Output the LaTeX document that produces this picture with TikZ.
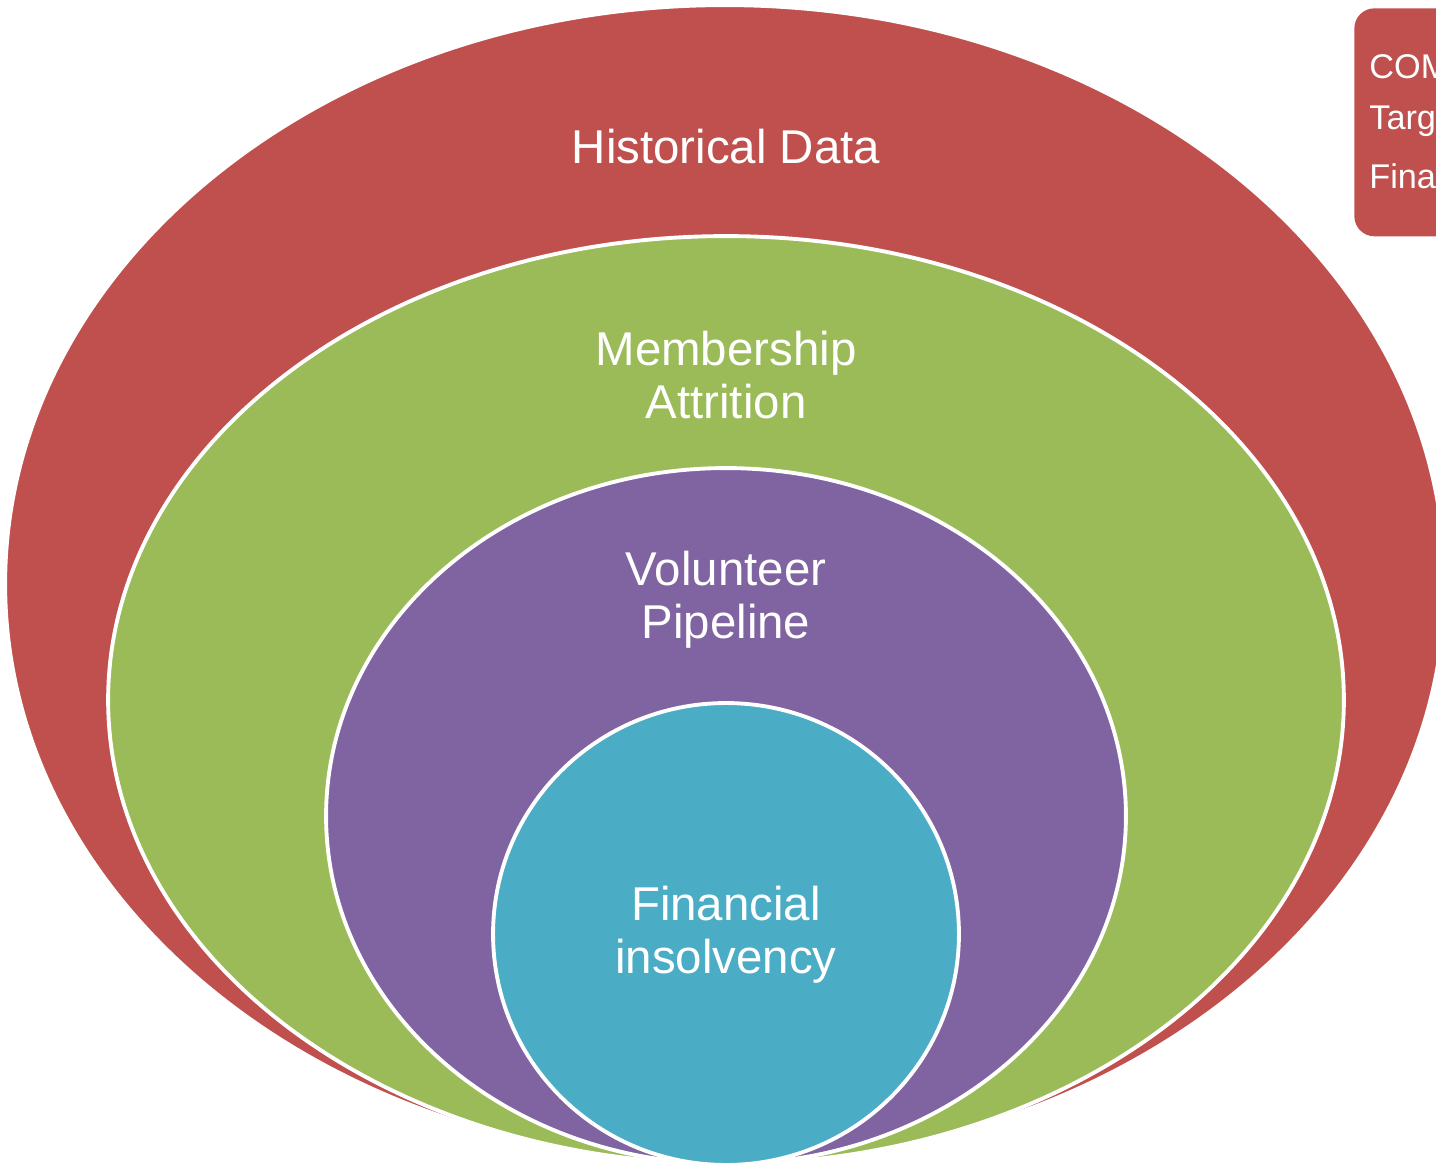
\documentclass[tikz,border=0pt]{standalone}
\usepackage{fontspec}
\setmainfont{Liberation Sans}
\usepackage{tikz}
\usetikzlibrary{shapes.geometric}
\usetikzlibrary{positioning}
\definecolor{histred}{HTML}{C0504D}
\definecolor{memgreen}{HTML}{9BBB59}
\definecolor{volpurple}{HTML}{8064A2}
\definecolor{finblue}{HTML}{4BACC6}
\tikzset{
    every node/.style={font=\fontsize{27}{30}\selectfont, text=white},
    ring/.style={ellipse, draw=white, line width=2.2pt, inner sep=0pt, outer sep=0pt},
    ring label/.style={align=center, inner sep=0pt},
    legend line/.style={anchor=west, inner sep=0pt, font=\fontsize{19.5}{19.5}\selectfont}
}

\begin{document}
\begin{tikzpicture}[
            x = 0.02cm, % one unit per pixel
            y = -0.02cm
        ]

        \useasboundingbox (0,0) rectangle (1436,1165);
        \clip (0,0) rectangle (1436,1165);

        % nested rings
        \node[ring, fill=histred, minimum width=28.8cm, minimum height=23.16cm] (hist) at (725,584) {};
        \node[ring, fill=memgreen, minimum width=24.72cm, minimum height=18.56cm] (memb) at (726,700) {};
        \node[ring, fill=volpurple, minimum width=16cm, minimum height=13.92cm] (volu) at (726,816) {};
        \node[ring, fill=finblue, minimum width=9.32cm, minimum height=9.24cm] (fina) at (726,934) {};

        % ring labels
        \node[ring label] (histtext) at (726,147) {Historical Data};
        \node[ring label] (membtext) at (726,375) {Membership\\Attrition};
        \node[ring label] (volutext) at (726,600) {Volunteer\\Pipeline};
        \node[ring label] (finatext) at (726,935) {Financial\\insolvency};

        % side box, cut by the page edge
        \node[fill=histred, rounded corners=0.4cm, anchor=north west,
              minimum width=3cm, minimum height=4.56cm, inner sep=0pt] (side) at (1354,8) {};
        \node[legend line] (sideone) at (1369,67) {COM};
        \node[legend line] (sidetwo) at (1369,121) {Targ};
        \node[legend line] (sidethree) at (1369,176) {Fina};

  \end{tikzpicture}
\end{document}
